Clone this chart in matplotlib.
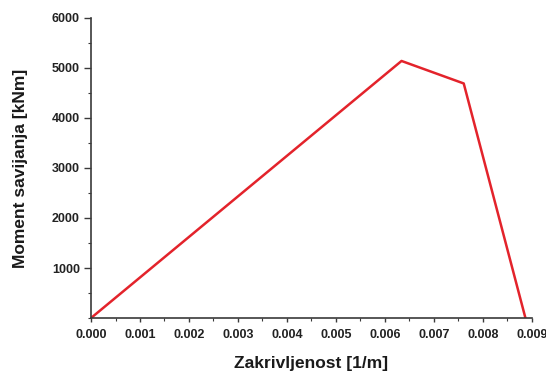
import matplotlib
matplotlib.use("Agg")
import matplotlib.pyplot as plt
from matplotlib.ticker import MultipleLocator

# podaci
zakrivljenost = [0.0, 0.00634, 0.00761, 0.00887]
moment = [0, 5140, 4690, 0]
x_ticks = [0.000, 0.001, 0.002, 0.003, 0.004, 0.005, 0.006, 0.007, 0.008, 0.009]
y_ticks = [1000, 2000, 3000, 4000, 5000, 6000]

plt.rcParams["font.family"] = ["Liberation Sans", "DejaVu Sans"]
plt.rcParams["font.weight"] = "bold"

fig = plt.figure(figsize=(5.46, 3.74), dpi=100)
ax = fig.add_axes([0.1667, 0.1497, 0.8073, 0.8023])

ax.plot(zakrivljenost, moment, color="#e3232b", linewidth=1.8)

ax.set_xlim(0, 0.009)
ax.set_ylim(0, 6000)
ax.set_xticks(x_ticks)
ax.set_xticklabels([f"{v:.3f}" for v in x_ticks])
ax.set_yticks(y_ticks)
ax.xaxis.set_minor_locator(MultipleLocator(0.0005))
ax.yaxis.set_minor_locator(MultipleLocator(500))

for s in ["top", "right"]:
    ax.spines[s].set_visible(False)
for s in ["left", "bottom"]:
    ax.spines[s].set_color("#3a3a3a")
    ax.spines[s].set_linewidth(1.2)

ax.tick_params(axis="both", which="major", labelsize=9, width=1,
               color="#3a3a3a", labelcolor="#222222")
ax.tick_params(axis="y", which="major", length=5, pad=3)
ax.tick_params(axis="y", which="minor", length=2, width=0.8, color="#3a3a3a")
ax.tick_params(axis="x", which="major", length=3, pad=5)
ax.tick_params(axis="x", which="minor", length=2, width=0.8, color="#3a3a3a")

ax.set_xlabel("Zakrivljenost [1/m]", fontsize=12.5, fontweight="bold", color="#1a1a1a")
ax.set_ylabel("Moment savijanja [kNm]", fontsize=12.5, fontweight="bold", color="#1a1a1a")
ax.xaxis.set_label_coords(0.5, -0.125)
ax.yaxis.set_label_coords(-0.143, 0.5)

fig.savefig("out.png", dpi=100)
